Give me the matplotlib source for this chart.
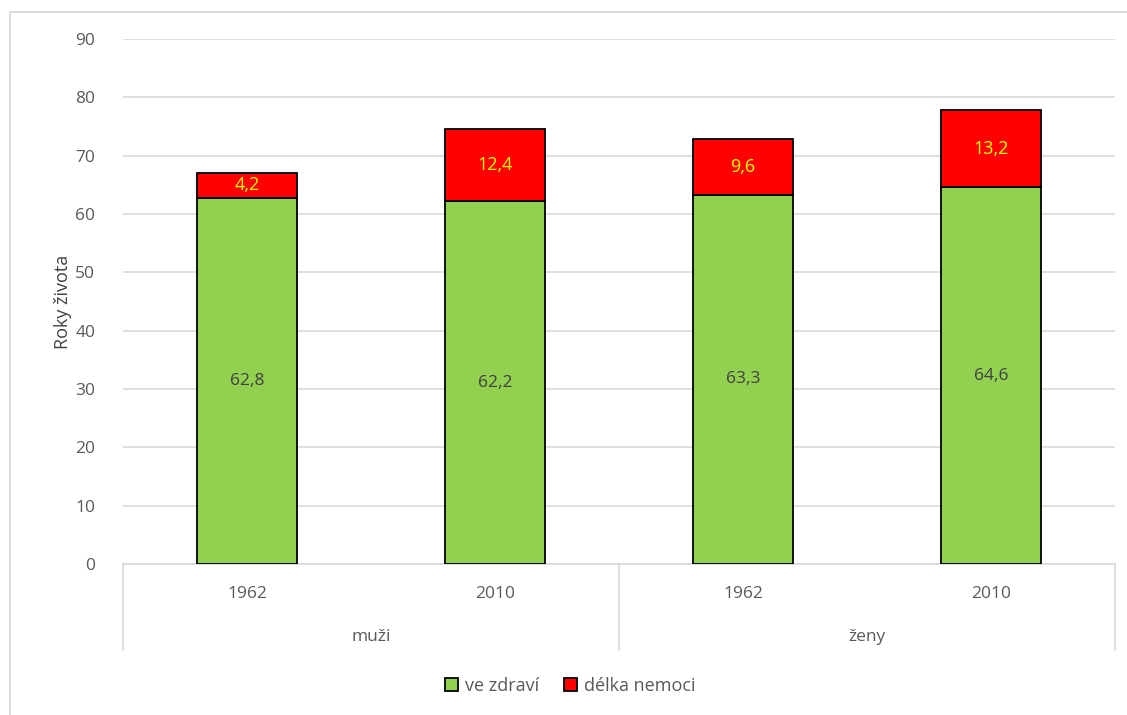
import matplotlib.pyplot as plt
from matplotlib.lines import Line2D
import numpy as np

plt.rcParams['font.family'] = ['Open Sans', 'DejaVu Sans']

years = ["1962", "2010", "1962", "2010"]
groups = ["muži", "ženy"]
healthy = [62.8, 62.2, 63.3, 64.6]
illness = [4.2, 12.4, 9.6, 13.2]

W, H = 1127, 715
fig = plt.figure(figsize=(W / 100, H / 100), dpi=100)

# plot area in pixels
x0, x1, y0, y1 = 123, 1115, 564, 39
ax = fig.add_axes([x0 / W, 1 - y0 / H, (x1 - x0) / W, (y0 - y1) / H])

grey = "#595959"
grid_c = "#d9d9d9"
x = np.arange(len(years))

b1 = ax.bar(x, healthy, width=0.4, color="#92d050", edgecolor="black", linewidth=1.3,
            label="ve zdraví", zorder=3)
b2 = ax.bar(x, illness, width=0.4, bottom=healthy, color="#ff0000", edgecolor="black",
            linewidth=1.3, label="délka nemoci", zorder=3)

for i in range(len(x)):
    ax.text(x[i], healthy[i] / 2, f"{healthy[i]:.1f}".replace(".", ","), ha="center",
            va="center", fontsize=12.5, color="#404040", zorder=4)
    ax.text(x[i], healthy[i] + illness[i] / 2, f"{illness[i]:.1f}".replace(".", ","),
            ha="center", va="center", fontsize=13, color="#ffff00", zorder=4)

ax.set_xlim(-0.5, len(x) - 0.5)
ax.set_ylim(0, 90)
ax.set_yticks(range(0, 91, 10))
ax.yaxis.grid(True, color=grid_c, linewidth=1.2, zorder=0)
ax.tick_params(axis="y", length=0, pad=20, labelsize=12.5, labelcolor=grey)
ax.set_xticks([])
for s in ["top", "right", "left"]:
    ax.spines[s].set_visible(False)
ax.spines["bottom"].set_color(grid_c)
ax.spines["bottom"].set_linewidth(1.2)
ax.set_ylabel("Roky života", fontsize=13, color="#404040", labelpad=2)

# category axis: years and groups
for i, y in enumerate(years):
    ax.text(x[i], -5.1, y, ha="center", va="center", fontsize=12.5, color=grey,
            clip_on=False)
for g, name in enumerate(groups):
    ax.text(0.5 + 2 * g, -12.5, name, ha="center", va="center", fontsize=12.5, color=grey,
            clip_on=False)
for xs in [-0.5, 1.5, 3.5]:
    ax.plot([xs, xs], [0, -14.7], color=grid_c, linewidth=1.2, clip_on=False, zorder=1)

# legend
leg = fig.legend(handles=[b1, b2], loc="center", bbox_to_anchor=(570 / W, 1 - 686 / H),
                 ncol=2, frameon=False, fontsize=13, handlelength=0.75, handleheight=0.75,
                 handletextpad=0.35, columnspacing=1.4)
for t in leg.get_texts():
    t.set_color(grey)

# outer chart border (left and top only visible)
fig.add_artist(Line2D([10 / W, 10 / W], [0, 1 - 12 / H], color=grid_c, linewidth=1.3))
fig.add_artist(Line2D([10 / W, 1], [1 - 12 / H, 1 - 12 / H], color=grid_c, linewidth=1.3))

fig.savefig("out.png", dpi=100)
